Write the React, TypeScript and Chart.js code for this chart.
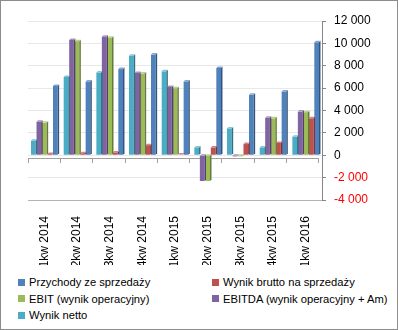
import React, { useEffect, useRef } from "react";
import { Chart, registerables } from "chart.js";

Chart.register(...registerables);

const categories = [
  "1kw 2014", "2kw 2014", "3kw 2014", "4kw 2014", "1kw 2015",
  "2kw 2015", "3kw 2015", "4kw 2015", "1kw 2016",
];

const przychody = [6200, 6600, 7700, 9000, 6600, 7800, 5400, 5700, 10100];
const wynikBrutto = [120, 180, 250, 900, 60, 700, 1000, 1100, 3300];
const ebit = [2900, 10200, 10500, 7300, 6000, -2300, -100, 3300, 3850];
const ebitda = [3000, 10300, 10600, 7350, 6100, -2300, -100, 3350, 3900];
const wynikNetto = [1300, 7000, 7400, 8900, 7500, 700, 2400, 700, 1650];

const seriesNames = [
  "Przychody ze sprzedaży",
  "Wynik brutto na sprzedaży",
  "EBIT (wynik operacyjny)",
  "EBITDA (wynik operacyjny + Am)",
  "Wynik netto",
];
const seriesColors = ["#4F81BD", "#C0504D", "#9BBB59", "#8064A2", "#4BACC6"];
const seriesData = [przychody, wynikBrutto, ebit, ebitda, wynikNetto];

const yTicksMin = -4000;
const yTicksMax = 12000;
const yStep = 2000;

function shade(hex: string, f: number): string {
  const n = parseInt(hex.slice(1), 16);
  let r = (n >> 16) & 255, g = (n >> 8) & 255, b = n & 255;
  if (f < 0) {
    r = Math.round(r * (1 + f)); g = Math.round(g * (1 + f)); b = Math.round(b * (1 + f));
  } else {
    r = Math.round(r + (255 - r) * f); g = Math.round(g + (255 - g) * f); b = Math.round(b + (255 - b) * f);
  }
  return `rgb(${r},${g},${b})`;
}

const fmt = (v: number) => {
  const s = Math.abs(v).toString().replace(/\B(?=(\d{3})+(?!\d))/g, " ");
  return (v < 0 ? "-" : "") + s;
};

const floorPlugin = {
  id: "floor",
  beforeDatasetsDraw(chart: any) {
    const { ctx, chartArea, scales } = chart;
    const y0 = scales.y.getPixelForValue(0);
    ctx.save();
    ctx.strokeStyle = "#a0a0a0";
    ctx.lineWidth = 1;
    ctx.beginPath();
    ctx.moveTo(chartArea.left, Math.round(y0 + 3) + 0.5);
    ctx.lineTo(chartArea.right - 3, Math.round(y0 + 3) + 0.5);
    ctx.stroke();
    const n = categories.length;
    const w = (chartArea.right - 4 - chartArea.left) / n;
    ctx.beginPath();
    for (let i = 0; i <= n; i++) {
      const x = Math.round(chartArea.left + i * w) + 0.5;
      ctx.moveTo(x, Math.round(y0 + 3));
      ctx.lineTo(x, Math.round(y0 + 8));
    }
    ctx.stroke();
    ctx.restore();
  },
  afterDatasetsDraw(chart: any) {
    const { ctx } = chart;
    const d = 1.5;
    chart.data.datasets.forEach((ds: any, i: number) => {
      const meta = chart.getDatasetMeta(i);
      const col = ds.backgroundColor as string;
      meta.data.forEach((bar: any) => {
        const { x, y, base, width } = bar.getProps(["x", "y", "base", "width"], true);
        const left = x - width / 2;
        const right = x + width / 2;
        const top = Math.min(y, base);
        const bottom = Math.max(y, base);
        ctx.save();
        ctx.fillStyle = shade(col, -0.35);
        ctx.beginPath();
        ctx.moveTo(right, top);
        ctx.lineTo(right + d, top - d);
        ctx.lineTo(right + d, bottom - d);
        ctx.lineTo(right, bottom);
        ctx.closePath();
        ctx.fill();
        ctx.fillStyle = shade(col, 0.3);
        ctx.beginPath();
        ctx.moveTo(left, top);
        ctx.lineTo(left + d, top - d);
        ctx.lineTo(right + d, top - d);
        ctx.lineTo(right, top);
        ctx.closePath();
        ctx.fill();
        ctx.restore();
      });
    });
  },
};

export default function App() {
  const ref = useRef<HTMLCanvasElement | null>(null);

  useEffect(() => {
    if (!ref.current) return;
    const order = [4, 3, 2, 1, 0];
    const chart = new Chart(ref.current, {
      type: "bar",
      data: {
        labels: categories,
        datasets: order.map((i) => ({
          label: seriesNames[i],
          data: seriesData[i],
          backgroundColor: seriesColors[i],
          borderWidth: 0,
          categoryPercentage: 0.84,
          barPercentage: 0.85,
        })),
      },
      options: {
        animation: false,
        responsive: false,
        maintainAspectRatio: false,
        layout: { padding: { left: 27, top: 20, right: 0, bottom: 0 } },
        plugins: { legend: { display: false }, tooltip: { enabled: false } },
        scales: {
          x: {
            grid: { display: false },
            border: { display: false },
            ticks: {
              autoSkip: false,
              minRotation: 90,
              maxRotation: 90,
              padding: 8,
              color: "#000",
              font: { family: "'Liberation Sans', Arial, sans-serif", size: 12 },
            },
            afterFit: (s: any) => { s.height = 65; },
          },
          y: {
            position: "right",
            min: yTicksMin,
            max: yTicksMax,
            ticks: {
              stepSize: yStep,
              padding: 8,
              color: (c: any) => (c.tick && c.tick.value < 0 ? "#ff0000" : "#000"),
              font: { family: "'Liberation Sans', Arial, sans-serif", size: 12 },
              callback: (v: any) => fmt(Number(v)),
            },
            grid: {
              color: (c: any) => (c.tick && c.tick.value === yTicksMin ? "#b4b4b4" : "#e8e8e8"),
              tickColor: "#868686",
              tickLength: 4,
            },
            border: { color: "#868686" },
            afterFit: (s: any) => { s.width = 75; },
          },
        },
      },
      plugins: [floorPlugin],
    });
    return () => chart.destroy();
  }, []);

  const legendOrder = [0, 1, 2, 3, 4];
  return (
    <div
      style={{
        position: "fixed",
        left: 0,
        top: 0,
        width: 398,
        height: 330,
        boxSizing: "border-box",
        border: "1px solid #8c8c8c",
        background: "#fff",
        fontFamily: "'Liberation Sans', Arial, sans-serif",
      }}
    >
      <canvas ref={ref} width={396} height={264} style={{ display: "block", width: 396, height: 264 }} />
      {legendOrder.map((i, k) => {
        const col = k % 2;
        const row = Math.floor(k / 2);
        return (
          <div
            key={i}
            style={{
              position: "absolute",
              left: col === 0 ? 17 : 211,
              top: 273 + row * 16.5,
              height: 16,
              display: "flex",
              alignItems: "center",
              fontSize: 11.2,
              color: "#000",
              whiteSpace: "nowrap",
            }}
          >
            <span style={{ display: "inline-block", width: 7, height: 7, background: seriesColors[i], marginRight: 4 }} />
            <span>{seriesNames[i]}</span>
          </div>
        );
      })}
    </div>
  );
}
